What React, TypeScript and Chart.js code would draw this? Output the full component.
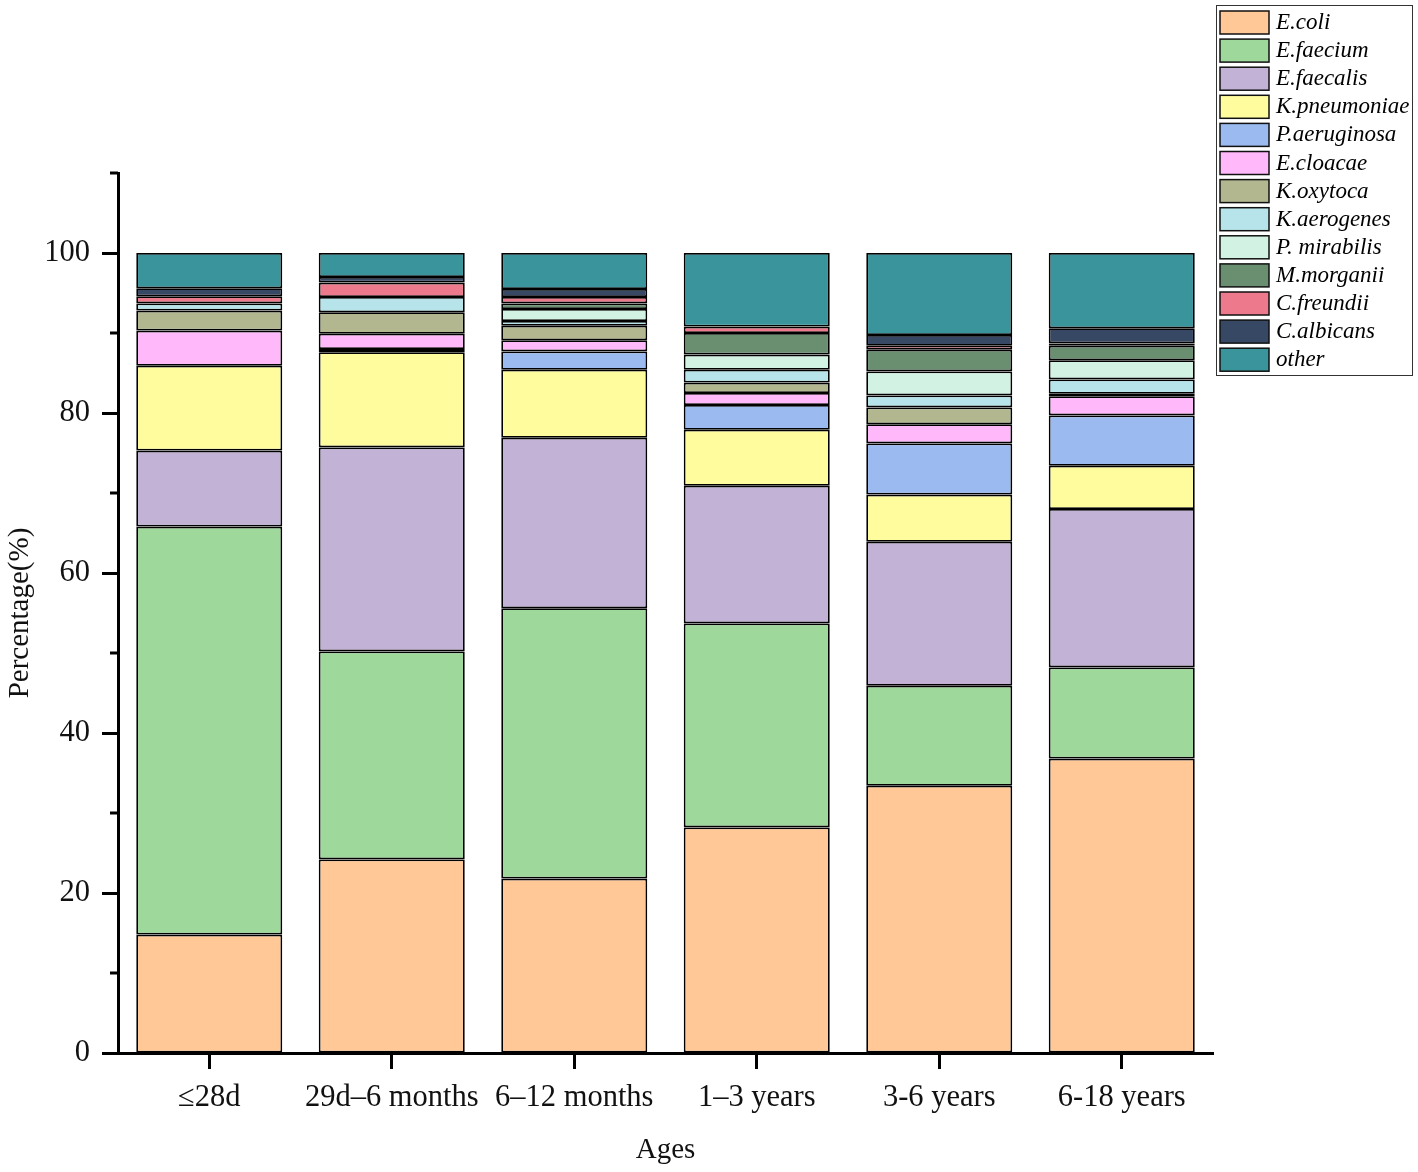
import { useEffect, useRef } from "react"
import { Chart, registerables, type Plugin } from "chart.js"

Chart.register(...registerables)

const ageGroups = ["≤28d", "29d–6 months", "6–12 months", "1–3 years", "3-6 years", "6-18 years"]

const species = [
  "E.coli",
  "E.faecium",
  "E.faecalis",
  "K.pneumoniae",
  "P.aeruginosa",
  "E.cloacae",
  "K.oxytoca",
  "K.aerogenes",
  "P. mirabilis",
  "M.morganii",
  "C.freundii",
  "C.albicans",
  "other",
]

// percentage per age group, bottom of the stack first
const eColi = [14.8, 24.2, 21.8, 28.2, 33.4, 36.8]
const eFaecium = [51.0, 26.0, 33.8, 25.5, 12.5, 11.4]
const eFaecalis = [9.5, 25.5, 21.3, 17.2, 18.0, 19.8]
const kPneumoniae = [10.6, 11.9, 8.5, 7.0, 5.9, 5.4]
const pAeruginosa = [0, 0.4, 2.3, 3.1, 6.4, 6.3]
const eCloacae = [4.4, 1.9, 1.4, 1.5, 2.4, 2.4]
const kOxytoca = [2.5, 2.7, 1.8, 1.3, 2.1, 0.3]
const kAerogenes = [0.9, 1.9, 0.6, 1.6, 1.5, 1.8]
const pMirabilis = [0, 0, 1.5, 1.9, 3.0, 2.4]
const mMorganii = [0, 0, 0.7, 2.7, 2.7, 1.8]
const cFreundii = [0.9, 1.8, 0.8, 0.8, 0.5, 0.3]
const cAlbicans = [1.0, 0.7, 1.0, 0, 1.35, 1.9]
const other = [4.4, 3.0, 4.5, 9.2, 10.25, 9.4]

const yTicks = [0, 20, 40, 60, 80, 100]
const yMinorTicks = [10, 30, 50, 70, 90, 110]

const seriesValues = [
  eColi, eFaecium, eFaecalis, kPneumoniae, pAeruginosa, eCloacae,
  kOxytoca, kAerogenes, pMirabilis, mMorganii, cFreundii, cAlbicans, other,
]

const colors = [
  "#FFC896", "#9ED89A", "#C1B2D6", "#FFFC9E", "#9BBAF0", "#FFB9FA",
  "#B2B790", "#B6E4EA", "#D2F3E4", "#6A8E70", "#ED7A8C", "#364864", "#3A949C",
]

const serif = "'Liberation Serif', 'Times New Roman', serif"

// short ticks between the labelled ones on the y axis
const minorTicks: Plugin<"bar"> = {
  id: "minorTicks",
  afterDraw(chart) {
    const { ctx, chartArea, scales } = chart
    ctx.save()
    ctx.strokeStyle = "#000"
    ctx.lineWidth = 3
    yMinorTicks.forEach((v) => {
      const y = scales.y.getPixelForValue(v)
      ctx.beginPath()
      ctx.moveTo(chartArea.left - 8, y)
      ctx.lineTo(chartArea.left, y)
      ctx.stroke()
    })
    ctx.restore()
  },
}

const boxLegend: Plugin<"bar"> = {
  id: "boxLegend",
  afterDraw(chart) {
    const { ctx } = chart
    const left = 1216
    const top = 5
    const pitch = 28.1
    const datasets = chart.data.datasets
    ctx.save()
    ctx.strokeStyle = "#333"
    ctx.lineWidth = 1
    ctx.strokeRect(left + 0.5, top + 0.5, 196, 370)
    ctx.font = `italic 23px ${serif}`
    ctx.textBaseline = "middle"
    datasets.forEach((ds, i) => {
      const y = top + 6 + i * pitch
      ctx.fillStyle = ds.backgroundColor as string
      ctx.fillRect(left + 4, y, 49, 23)
      ctx.lineWidth = 1.5
      ctx.strokeStyle = "#111"
      ctx.strokeRect(left + 4, y, 49, 23)
      ctx.fillStyle = "#000"
      ctx.fillText(ds.label ?? "", left + 60, y + 12)
    })
    ctx.restore()
  },
}

export default function App() {
  const canvasRef = useRef<HTMLCanvasElement>(null)
  const chartRef = useRef<Chart<"bar"> | null>(null)

  useEffect(() => {
    if (!canvasRef.current) return
    if (chartRef.current) chartRef.current.destroy()

    chartRef.current = new Chart(canvasRef.current, {
      type: "bar",
      data: {
        labels: ageGroups,
        datasets: species.map((name, i) => ({
          label: name,
          data: seriesValues[i],
          backgroundColor: colors[i],
          borderColor: "#000",
          borderWidth: 1.8,
          borderSkipped: false,
          barPercentage: 0.8,
          categoryPercentage: 1,
        })),
      },
      options: {
        animation: false,
        responsive: true,
        maintainAspectRatio: false,
        devicePixelRatio: 1,
        layout: { padding: { top: 173, right: 205, left: 0, bottom: 0 } },
        plugins: {
          legend: { display: false },
          tooltip: { enabled: false },
        },
        scales: {
          x: {
            stacked: true,
            afterFit: (s) => {
              s.height = 119
            },
            grid: {
              offset: false,
              drawOnChartArea: false,
              drawTicks: true,
              tickLength: 16,
              tickWidth: 3,
              tickColor: "#000",
            },
            border: { display: true, color: "#000", width: 3 },
            ticks: {
              color: "#111",
              padding: 11,
              maxRotation: 0,
              autoSkip: false,
              font: { family: serif, size: 30.5 },
            },
            title: {
              display: true,
              text: "Ages",
              color: "#111",
              padding: { top: 0, bottom: 4 },
              font: { family: serif, size: 29 },
            },
          },
          y: {
            stacked: true,
            min: 0,
            max: 110,
            afterFit: (s) => {
              s.width = 118
            },
            afterBuildTicks: (s) => {
              s.ticks = yTicks.map((value) => ({ value }))
            },
            grid: {
              drawOnChartArea: false,
              drawTicks: true,
              tickLength: 16,
              tickWidth: 3,
              tickColor: "#000",
            },
            border: { display: true, color: "#000", width: 3 },
            ticks: {
              color: "#111",
              padding: 12,
              font: { family: serif, size: 30.5 },
            },
            title: {
              display: true,
              text: "Percentage(%)",
              color: "#111",
              padding: { top: 3, bottom: 0 },
              font: { family: serif, size: 29 },
            },
          },
        },
      },
      plugins: [minorTicks, boxLegend],
    })

    return () => {
      if (chartRef.current) {
        chartRef.current.destroy()
        chartRef.current = null
      }
    }
  }, [])

  return (
    <div style={{ position: "absolute", left: 0, top: 0, width: 1418, height: 1172, background: "#fff" }}>
      <canvas ref={canvasRef} />
    </div>
  )
}
